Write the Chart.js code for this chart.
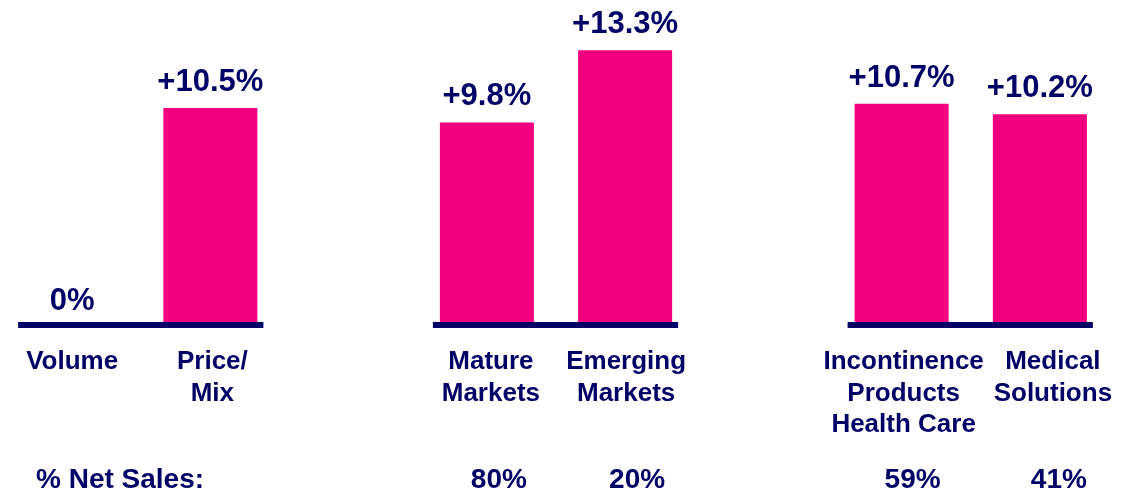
<!DOCTYPE html>
<html>
<head>
<meta charset="utf-8">
<script src="https://cdn.jsdelivr.net/npm/chart.js@4/dist/chart.umd.min.js"></script>
<style>
  html, body { margin: 0; padding: 0; background: #ffffff; }
  #c { display: block; }
</style>
</head>
<body>
<canvas id="c" width="1139" height="490"></canvas>
<script>
// ---- data ----
const categories = [
  'Volume', ['Price/', 'Mix'], '',
  ['Mature', 'Markets'], ['Emerging', 'Markets'], '',
  ['Incontinence', 'Products', 'Health Care'], ['Medical', 'Solutions']
];
const growth = [0, 10.5, null, 9.8, 13.3, null, 10.7, 10.2];
const netSales = [null, null, null, 80, 20, null, 59, 41];
const netSalesTitle = '% Net Sales:';

// ---- style / layout ----
const NAVY = '#000066';
const PINK = '#F2007F';
const FONT = '"Liberation Sans", Arial, Helvetica, sans-serif';
const netSalesDx = [0, 0, 0, 12, 12, 0, 11, 19];
const labelDx = [0, 2, 0, 4, 1, 0, 2, 13];

const overlay = {
  id: 'overlay',
  afterDatasetsDraw(chart) {
    const ctx = chart.ctx;
    const meta = chart.getDatasetMeta(0);
    const y0 = chart.scales.y.getPixelForValue(0);
    const xs = chart.scales.x;

    ctx.save();
    // baselines under each group of consecutive bars
    ctx.fillStyle = NAVY;
    let start = -1;
    for (let i = 0; i <= growth.length; i++) {
      const has = i < growth.length && growth[i] !== null;
      if (has && start < 0) start = i;
      if (!has && start >= 0) {
        const xl = xs.getPixelForValue(start) - 54;
        const xr = xs.getPixelForValue(i - 1) + 53;
        ctx.fillRect(xl, y0 - 3, xr - xl, 6);
        start = -1;
      }
    }

    // value labels
    ctx.font = 'bold 31px ' + FONT;
    ctx.textAlign = 'center';
    ctx.textBaseline = 'alphabetic';
    meta.data.forEach((bar, i) => {
      const v = growth[i];
      if (v === null) return;
      const txt = v === 0 ? '0%' : '+' + v.toFixed(1) + '%';
      const top = v === 0 ? y0 + 2 : bar.y;
      ctx.fillText(txt, bar.x, top - 17);
    });

    // category labels
    ctx.font = 'bold 26px ' + FONT;
    ctx.textBaseline = 'middle';
    categories.forEach((lab, i) => {
      const lines = Array.isArray(lab) ? lab : [lab];
      const x = xs.getPixelForValue(i) + labelDx[i];
      lines.forEach((ln, j) => ctx.fillText(ln, x, y0 + 37 + j * 31.5));
    });

    // % net sales row
    ctx.textBaseline = 'alphabetic';
    ctx.font = 'bold 28px ' + FONT;
    ctx.textAlign = 'left';
    ctx.fillText(netSalesTitle, 36, 488);
    ctx.textAlign = 'center';
    netSales.forEach((v, i) => {
      if (v === null) return;
      ctx.fillText(v + '%', xs.getPixelForValue(i) + netSalesDx[i], 488);
    });
    ctx.restore();
  }
};

new Chart(document.getElementById('c'), {
  type: 'bar',
  data: {
    labels: categories,
    datasets: [{
      data: growth,
      backgroundColor: PINK,
      borderWidth: 0,
      barPercentage: 0.68,
      categoryPercentage: 1.0
    }]
  },
  options: {
    responsive: false,
    animation: false,
    devicePixelRatio: 1,
    layout: { padding: { top: 15, left: 3, right: 30, bottom: 0 } },
    plugins: { legend: { display: false }, tooltip: { enabled: false } },
    scales: {
      y: { display: false, min: 0, max: 15 },
      x: {
        grid: { display: false, drawTicks: false },
        border: { display: false },
        ticks: { display: false },
        afterFit(scale) { scale.height = 165; }
      }
    }
  },
  plugins: [overlay]
});
</script>
</body>
</html>
